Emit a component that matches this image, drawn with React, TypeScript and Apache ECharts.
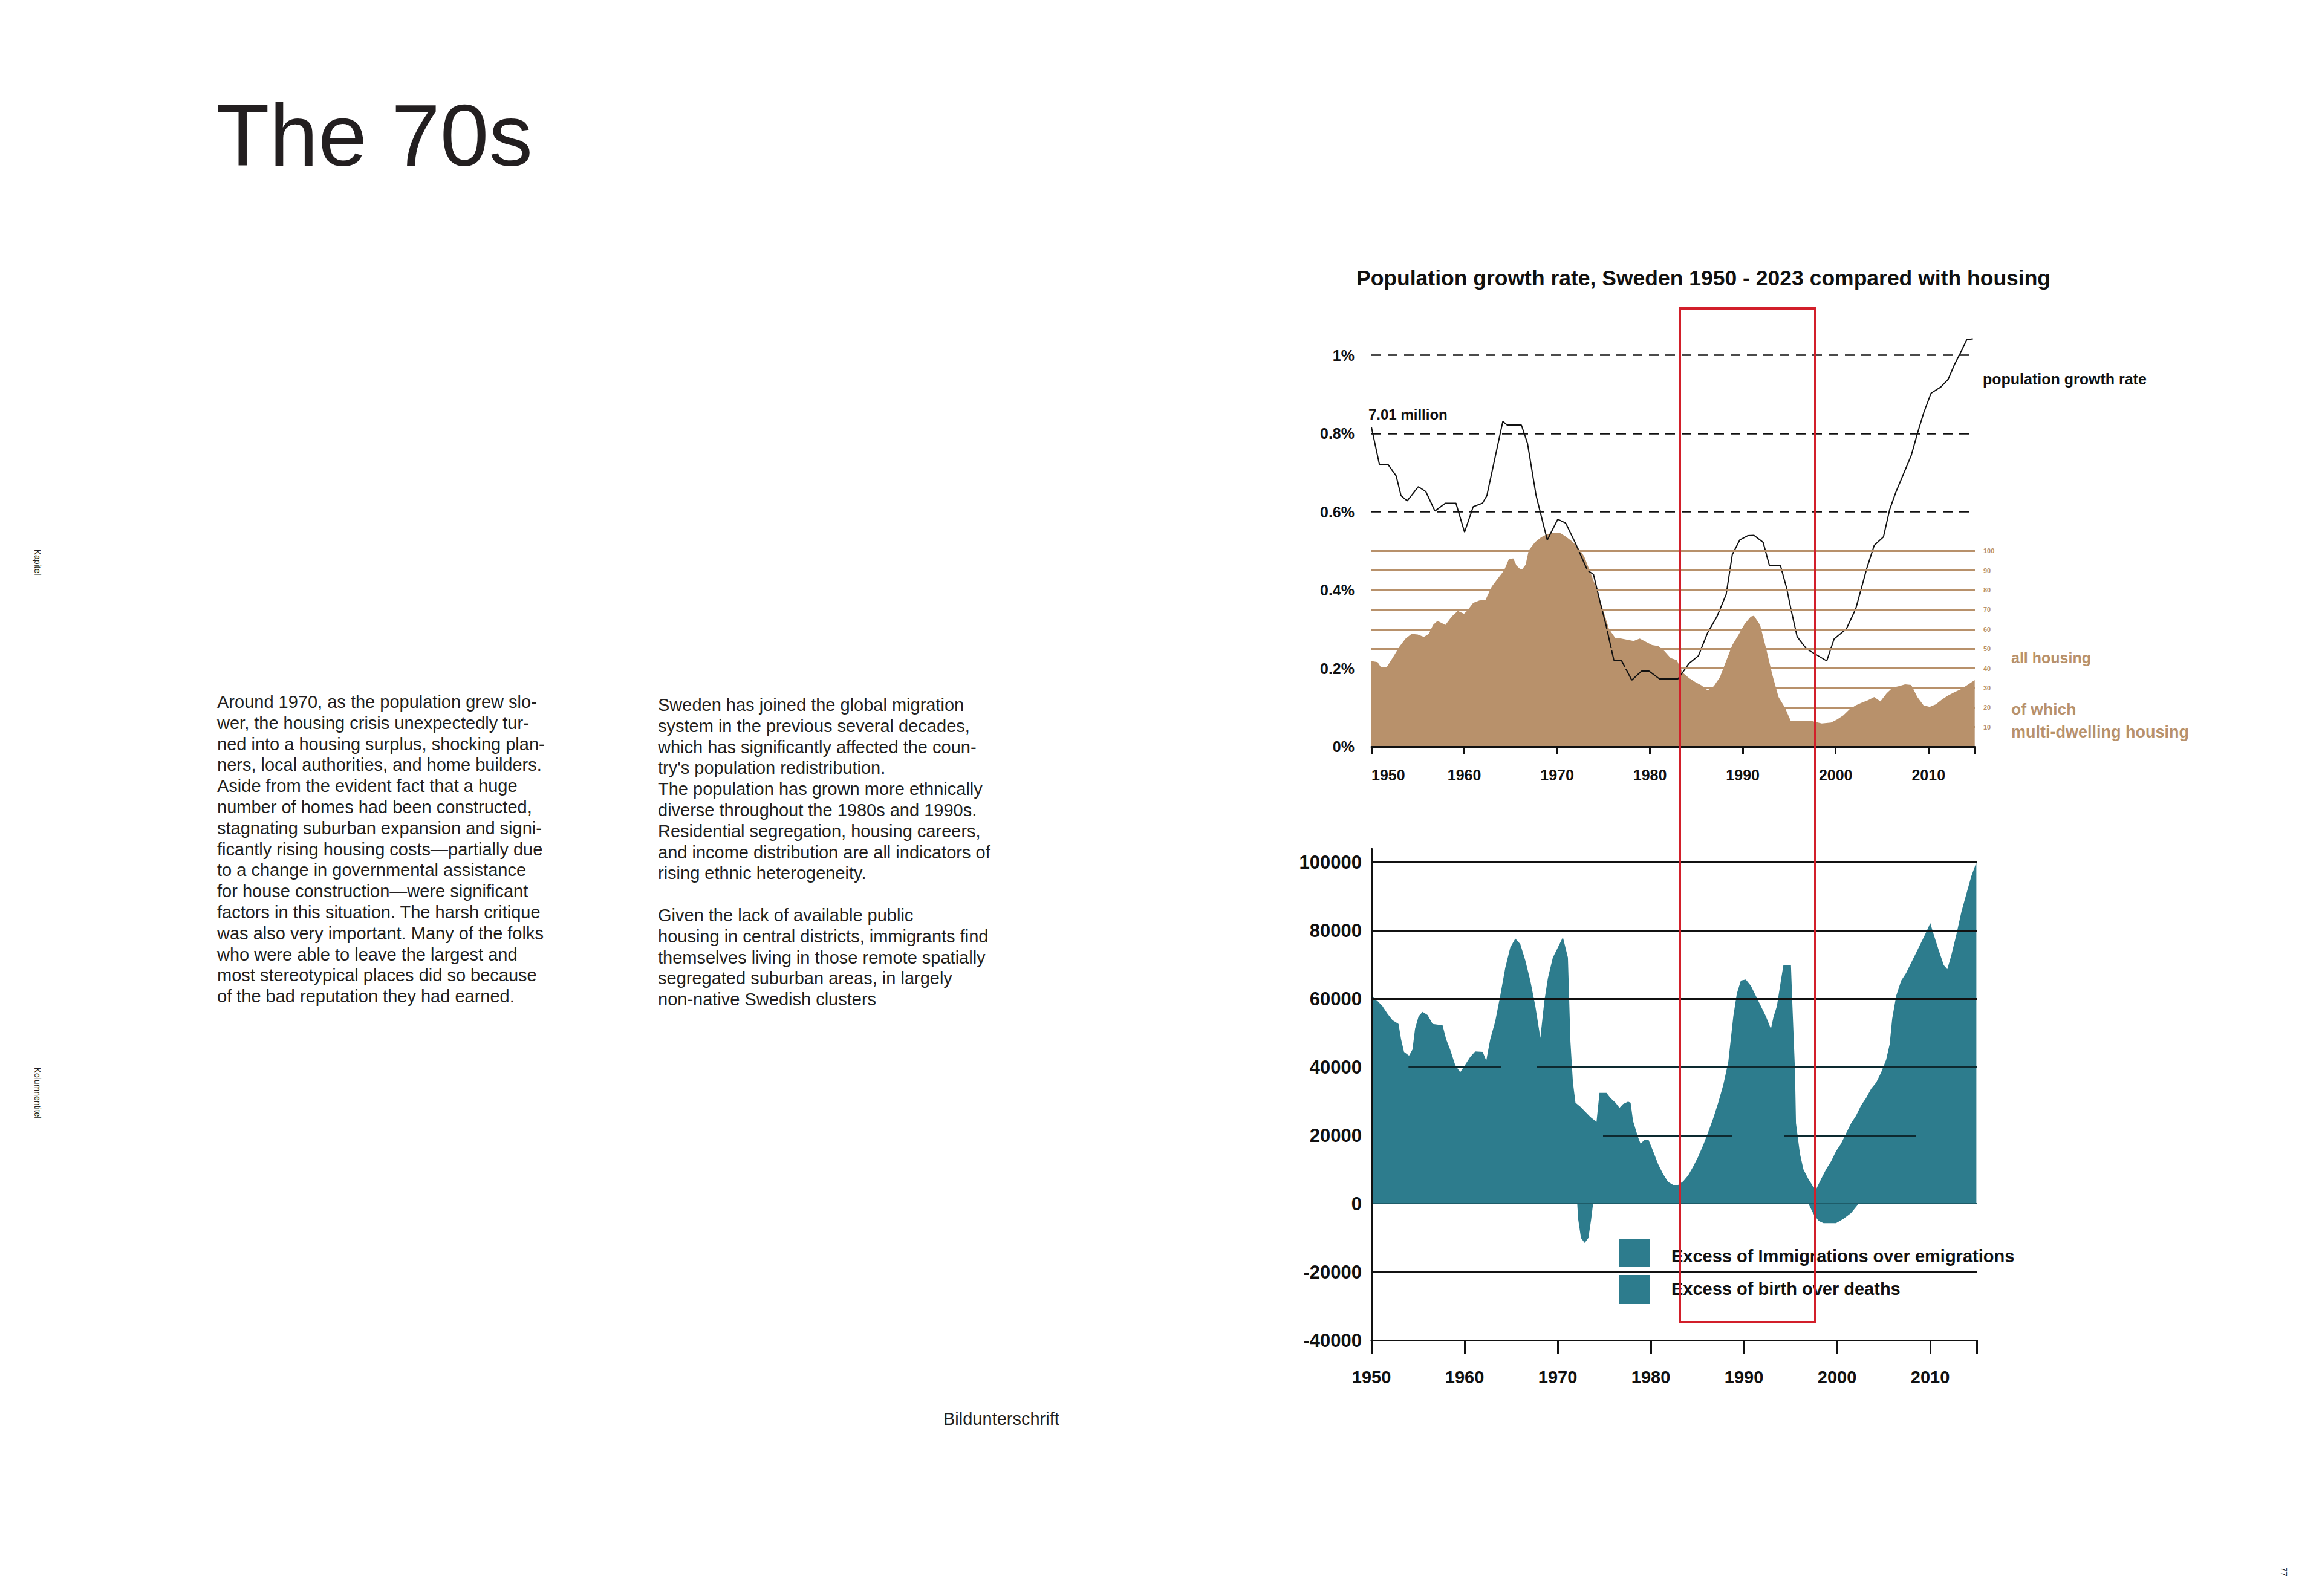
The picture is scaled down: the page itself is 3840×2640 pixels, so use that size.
import React, { useEffect, useRef } from 'react';
import * as echarts from 'echarts';

// ---------------- DATA ----------------
const chartTitle = 'Population growth rate, Sweden 1950 - 2023 compared with housing';
const yearMin = 1950;
const yearMax = 2015;

// Population growth rate (% per year) – traced vertices
const growthYears = [1950.0, 1950.86, 1951.79, 1952.66, 1953.19, 1953.85, 1955.05, 1955.85, 1956.84, 1957.97, 1959.1, 1960.03, 1960.96, 1961.96, 1962.43, 1964.15, 1964.62, 1966.15, 1966.81, 1967.74, 1968.94, 1970.07, 1970.93, 1971.93, 1973.26, 1973.92, 1974.58, 1975.25, 1976.11, 1976.91, 1978.04, 1979.1, 1979.9, 1981.03, 1983.02, 1984.22, 1985.22, 1986.21, 1987.21, 1988.21, 1988.87, 1989.67, 1990.53, 1991.2, 1992.19, 1992.86, 1994.05, 1994.72, 1995.18, 1995.85, 1996.84, 1997.84, 1999.04, 1999.83, 2001.16, 2002.16, 2002.82, 2003.36, 2004.15, 2005.15, 2005.81, 2006.48, 2008.14, 2008.8, 2009.47, 2010.27, 2011.33, 2012.13, 2012.79, 2013.46, 2014.12, 2014.78];
const growthRate = [0.816, 0.721, 0.721, 0.692, 0.641, 0.628, 0.664, 0.652, 0.602, 0.622, 0.622, 0.548, 0.613, 0.622, 0.641, 0.831, 0.822, 0.822, 0.775, 0.641, 0.528, 0.581, 0.571, 0.522, 0.451, 0.44, 0.374, 0.312, 0.221, 0.221, 0.17, 0.193, 0.193, 0.173, 0.173, 0.213, 0.232, 0.291, 0.332, 0.389, 0.491, 0.528, 0.539, 0.54, 0.522, 0.463, 0.463, 0.405, 0.352, 0.281, 0.25, 0.236, 0.219, 0.275, 0.301, 0.352, 0.409, 0.456, 0.514, 0.536, 0.605, 0.65, 0.744, 0.8, 0.852, 0.903, 0.919, 0.939, 0.976, 1.007, 1.04, 1.042];

// Housing completions (thousands, right scale)
const housingYears = [1950.0, 1950.66, 1951.0, 1951.66, 1952.33, 1952.99, 1953.65, 1954.32, 1954.98, 1955.65, 1956.18, 1956.64, 1957.11, 1957.97, 1958.64, 1959.3, 1959.97, 1960.3, 1960.96, 1961.63, 1962.29, 1962.96, 1963.62, 1964.29, 1964.82, 1965.28, 1965.61, 1966.15, 1966.61, 1966.94, 1967.61, 1968.27, 1968.94, 1969.6, 1970.27, 1970.93, 1971.59, 1972.26, 1972.92, 1973.59, 1974.25, 1974.92, 1975.58, 1976.25, 1976.91, 1977.57, 1978.24, 1978.9, 1979.57, 1980.23, 1980.9, 1981.56, 1982.23, 1982.89, 1983.55, 1984.22, 1984.88, 1985.55, 1986.21, 1986.88, 1987.54, 1988.21, 1988.87, 1989.53, 1990.2, 1990.86, 1991.2, 1991.86, 1992.52, 1993.19, 1993.85, 1994.52, 1995.18, 1997.51, 1998.5, 1999.5, 2000.17, 2000.83, 2001.5, 2002.16, 2002.82, 2003.49, 2004.15, 2004.82, 2005.48, 2006.15, 2006.81, 2007.48, 2008.14, 2008.8, 2009.47, 2010.13, 2010.8, 2011.46, 2012.13, 2012.79, 2013.46, 2014.12, 2014.98];
const housingAll = [43.7, 43.2, 40.7, 40.7, 45.7, 50.9, 55.1, 57.6, 57.3, 56.1, 57.6, 62.2, 64.3, 62.2, 66.4, 69.4, 67.9, 69.4, 73.5, 74.7, 75.0, 81.8, 86.0, 90.1, 96.0, 96.2, 92.6, 90.1, 93.0, 100.3, 104.4, 107.0, 108.6, 109.3, 109.3, 107.4, 105.0, 101.9, 97.2, 88.9, 80.7, 70.4, 60.2, 55.6, 55.2, 54.6, 54.0, 55.2, 53.5, 51.9, 51.4, 48.8, 45.3, 44.2, 37.7, 35.0, 33.0, 31.3, 28.7, 30.9, 35.5, 43.8, 51.9, 57.1, 62.7, 66.4, 66.9, 62.2, 50.0, 36.5, 25.3, 20.1, 13.0, 13.0, 11.8, 12.3, 13.9, 16.0, 19.1, 21.1, 22.5, 23.7, 25.3, 23.1, 27.2, 30.2, 30.9, 31.8, 31.5, 25.3, 21.1, 20.3, 21.6, 24.1, 26.2, 27.8, 29.3, 31.3, 34.0];
const housingTicks = [10, 20, 30, 40, 50, 60, 70, 80, 90, 100];
const growthRefLines = [0.6, 0.8, 1.0];

// Population increase (persons): visible upper envelope of the two series
const increaseYears = [1950.0, 1950.65, 1951.18, 1951.72, 1952.26, 1952.91, 1953.18, 1953.5, 1954.04, 1954.41, 1954.68, 1955.06, 1955.49, 1956.03, 1956.57, 1957.64, 1958.02, 1958.45, 1958.99, 1959.53, 1960.06, 1960.6, 1961.14, 1961.95, 1962.33, 1962.76, 1963.29, 1963.83, 1964.37, 1964.91, 1965.45, 1965.98, 1966.52, 1967.06, 1967.6, 1968.14, 1968.57, 1968.95, 1969.48, 1970.02, 1970.56, 1971.1, 1971.37, 1971.64, 1971.91, 1972.44, 1972.98, 1973.52, 1974.17, 1974.49, 1975.24, 1975.67, 1976.21, 1976.64, 1977.02, 1977.56, 1977.83, 1978.09, 1978.63, 1978.9, 1979.33, 1979.76, 1980.25, 1980.79, 1981.32, 1981.86, 1982.4, 1982.94, 1983.48, 1984.01, 1984.55, 1985.09, 1985.63, 1986.17, 1986.71, 1987.24, 1987.78, 1988.32, 1988.59, 1988.86, 1989.24, 1989.67, 1990.2, 1990.74, 1991.28, 1991.82, 1992.36, 1992.9, 1993.16, 1993.54, 1993.97, 1994.24, 1995.05, 1995.21, 1995.48, 1995.59, 1996.02, 1996.39, 1996.93, 1997.47, 1997.74, 1998.28, 1998.82, 1999.35, 1999.89, 2000.43, 2000.97, 2001.51, 2002.04, 2002.58, 2003.12, 2003.66, 2004.2, 2004.74, 2005.27, 2005.65, 2005.92, 2006.35, 2006.89, 2007.42, 2007.96, 2008.5, 2009.04, 2009.58, 2010.01, 2010.39, 2010.92, 2011.46, 2011.84, 2012.27, 2012.81, 2013.35, 2013.88, 2014.42, 2014.96];
const increaseUpper = [60900, 59400, 57900, 55700, 53800, 52700, 48200, 44500, 43400, 45200, 51200, 54900, 56200, 55300, 52700, 52300, 48200, 45200, 40700, 38500, 40700, 43000, 44600, 44500, 41900, 48200, 53400, 60900, 69100, 75100, 77700, 76100, 71300, 65400, 57900, 48600, 59400, 66100, 72100, 75100, 78100, 72100, 47500, 35500, 29600, 28400, 26900, 25400, 24000, 32500, 32500, 31000, 29600, 28100, 29200, 29900, 29600, 24300, 19500, 17600, 18700, 18700, 15400, 11600, 8700, 6400, 5500, 5500, 6600, 8300, 10900, 13800, 17200, 21000, 25100, 29600, 34800, 41500, 48200, 54900, 61600, 65400, 65700, 63900, 60900, 57900, 54900, 51200, 54600, 57900, 65400, 69900, 69900, 57900, 39300, 23600, 14600, 10100, 7200, 4900, 4200, 7200, 10100, 12400, 15400, 17600, 20600, 23600, 25800, 28800, 31000, 33700, 35500, 38500, 42200, 46700, 54200, 60900, 65400, 67600, 70600, 73600, 76600, 79600, 82200, 78800, 74300, 69900, 68700, 72800, 78800, 85500, 90700, 96000, 100000];
// Visible negative parts (net emigration 1972-73, excess of deaths 1997-2001)
const dipYears = [1950.0, 1972.1, 1972.2, 1972.5, 1972.9, 1973.3, 1973.6, 1973.8, 1996.93, 1997.47, 1998.01, 1998.55, 1999.89, 2000.7, 2001.51, 2002.31, 2015.0];
const increaseLower = [0, 0, -4500, -10000, -11500, -10000, -4500, 0, 0, -3000, -5000, -5700, -5700, -4400, -2700, 0, 0];

const increaseFullLines = [100000, 80000, 60000, -20000];
const increasePartialLines: [number, number, number][] = [
  [40000, 1953.98, 1963.94],
  [40000, 1967.76, 2015.0],
  [20000, 1974.87, 1988.75],
  [20000, 1994.35, 2008.5],
];
const legendLabels = ['Excess of Immigrations over emigrations', 'Excess of birth over deaths'];

const pageTitle = 'The 70s';
const leftText = [
  'Around 1970, as the population grew slo-',
  'wer, the housing crisis unexpectedly tur-',
  'ned into a housing surplus, shocking plan-',
  'ners, local authorities, and home builders.',
  'Aside from the evident fact that a huge',
  'number of homes had been constructed,',
  'stagnating suburban expansion and signi-',
  'ficantly rising housing costs\u2014partially due',
  'to a change in governmental assistance',
  'for house construction\u2014were significant',
  'factors in this situation. The harsh critique',
  'was also very important. Many of the folks',
  'who were able to leave the largest and',
  'most stereotypical places did so because',
  'of the bad reputation they had earned.',
];
const rightText = [
  'Sweden has joined the global migration',
  'system in the previous several decades,',
  'which has significantly affected the coun-',
  "try's population redistribution.",
  'The population has grown more ethnically',
  'diverse throughout the 1980s and 1990s.',
  'Residential segregation, housing careers,',
  'and income distribution are all indicators of',
  'rising ethnic heterogeneity.',
  '',
  'Given the lack of available public',
  'housing in central districts, immigrants find',
  'themselves living in those remote spatially',
  'segregated suburban areas, in largely',
  'non-native Swedish clusters',
];
const captionText = 'Bildunterschrift';
const sideLabels = ['Kapitel', 'Kolumnentitel'];
const pageNumber = '77';

// ---------------- STYLE ----------------
const FONT = '"Liberation Sans", Arial, Helvetica, sans-serif';
const BROWN = '#b8916b';
const TEAL = '#2d7c8d';
const INK = '#111111';
const PAGE_INK = '#231f20';
const RED = '#d21f2a';

const zip = (xs: number[], ys: number[]) => xs.map((x, i) => [x, ys[i]]);

function txt(x: number, y: number, text: string, size: number, opts: any = {}) {
  const align = opts.align || 'left';
  return {
    type: 'text',
    x,
    y,
    rotation: opts.rotation || 0,
    z: 50,
    silent: true,
    style: {
      text,
      fontSize: size,
      fontFamily: FONT,
      fontWeight: opts.weight || 'normal',
      fill: opts.color || PAGE_INK,
      align,
      verticalAlign: 'middle',
      textAlign: align,
      textVerticalAlign: 'middle',
    },
  };
}

function buildOption() {
  const graphics: any[] = [];
  graphics.push(txt(357, 224, pageTitle, 145));
  leftText.forEach((l, i) => graphics.push(txt(359, 1161 + i * 34.8, l, 29)));
  rightText.forEach((l, i) => { if (l) graphics.push(txt(1088, 1166 + i * 34.8, l, 29)); });
  graphics.push(txt(1560, 2347, captionText, 29));
  graphics.push(txt(62, 930, sideLabels[0], 14, { rotation: -Math.PI / 2, align: 'center' }));
  graphics.push(txt(62, 1808, sideLabels[1], 14, { rotation: -Math.PI / 2, align: 'center' }));
  graphics.push(txt(3777, 2600, pageNumber, 14, { rotation: -Math.PI / 2, align: 'center' }));

  // chart annotations
  graphics.push(txt(2243, 460, chartTitle, 35.5, { weight: 'bold', color: INK }));
  graphics.push(txt(2263, 685, '7.01 million', 24, { weight: 'bold', color: INK }));
  graphics.push(txt(3279, 627, 'population growth rate', 25, { weight: 'bold', color: INK }));
  graphics.push(txt(3326, 1088, 'all housing', 25, { weight: 'bold', color: BROWN }));
  graphics.push(txt(3326, 1173, 'of which', 26.5, { weight: 'bold', color: BROWN }));
  graphics.push(txt(3326, 1211, 'multi-dwelling housing', 27, { weight: 'bold', color: BROWN }));

  // legend
  graphics.push({ type: 'rect', z: 50, silent: true, shape: { x: 2678, y: 2049, width: 51, height: 46 }, style: { fill: TEAL } });
  graphics.push({ type: 'rect', z: 50, silent: true, shape: { x: 2678, y: 2109, width: 51, height: 48 }, style: { fill: TEAL } });
  graphics.push(txt(2764, 2078, legendLabels[0], 29, { weight: 'bold', color: INK }));
  graphics.push(txt(2764, 2132, legendLabels[1], 29, { weight: 'bold', color: INK }));

  // red highlight frame
  graphics.push({
    type: 'rect', z: 100, silent: true,
    shape: { x: 2778, y: 510, width: 224, height: 1677 },
    style: { fill: 'none', stroke: RED, lineWidth: 4 },
  });

  const axisFont = { fontFamily: FONT, fontWeight: 'bold', color: INK };

  return {
    animation: false,
    backgroundColor: '#ffffff',
    graphic: { elements: graphics },
    grid: [
      { left: 2268, top: 523, width: 998, height: 712 },
      { left: 2268, top: 1404, width: 1001, height: 813 },
    ],
    xAxis: [
      {
        type: 'value', gridIndex: 0, min: yearMin, max: yearMax, interval: 10, z: 10,
        axisLine: { onZero: false, lineStyle: { color: INK, width: 3 } },
        axisTick: { length: 13, lineStyle: { color: INK, width: 3 } },
        axisLabel: { ...axisFont, fontSize: 25, margin: 34, alignMinLabel: 'left', formatter: (v: number) => (v >= yearMax ? '' : String(v)) },
        splitLine: { show: false },
      },
      {
        type: 'value', gridIndex: 1, min: yearMin, max: yearMax, interval: 10, z: 10,
        axisLine: { onZero: false, lineStyle: { color: INK, width: 3 } },
        axisTick: { length: 22, lineStyle: { color: INK, width: 3 } },
        axisLabel: { ...axisFont, fontSize: 29, margin: 46, formatter: (v: number) => (v >= yearMax ? '' : String(v)) },
        splitLine: { show: false },
      },
    ],
    yAxis: [
      {
        type: 'value', gridIndex: 0, min: 0, max: 1.1, interval: 0.2,
        axisLine: { show: false }, axisTick: { show: false }, splitLine: { show: false },
        axisLabel: { ...axisFont, fontSize: 25, margin: 28, formatter: (v: number) => (v > 1.05 ? '' : `${+v.toFixed(1)}%`) },
      },
      {
        type: 'value', gridIndex: 0, min: 0, max: 220, position: 'right', show: false,
        splitLine: { show: false },
      },
      {
        type: 'value', gridIndex: 1, min: -40000, max: 104000, interval: 20000, z: 10,
        axisLine: { show: true, onZero: false, lineStyle: { color: INK, width: 3 } },
        axisTick: { show: false }, splitLine: { show: false },
        axisLabel: { ...axisFont, fontSize: 31, margin: 16, formatter: (v: number) => (v % 20000 !== 0 ? '' : String(v)) },
      },
    ],
    series: [
      {
        name: 'all housing', type: 'line', xAxisIndex: 0, yAxisIndex: 1, z: 2,
        data: zip(housingYears, housingAll), symbol: 'none', silent: true,
        lineStyle: { width: 0 }, areaStyle: { color: BROWN, opacity: 1 },
        markLine: {
          silent: true, symbol: 'none', animation: false,
          lineStyle: { color: BROWN, width: 3, type: 'solid', opacity: 1 },
          label: { show: true, position: 'end', distance: 14, color: BROWN, fontSize: 11, fontWeight: 'bold', fontFamily: FONT, formatter: (p: any) => String(p.value) },
          data: housingTicks.map((v) => ({ yAxis: v })),
        },
      },
      {
        name: 'population growth rate', type: 'line', xAxisIndex: 0, yAxisIndex: 0, z: 4,
        data: zip(growthYears, growthRate), symbol: 'none', silent: true,
        lineStyle: { color: INK, width: 2 },
        markLine: {
          silent: true, symbol: 'none', animation: false,
          lineStyle: { color: INK, width: 2.5, type: [16, 11] },
          label: { show: false },
          data: growthRefLines.map((v) => ({ yAxis: v })),
        },
      },
      {
        name: 'population increase', type: 'line', xAxisIndex: 1, yAxisIndex: 2, z: 2,
        data: zip(increaseYears, increaseUpper), symbol: 'none', silent: true,
        lineStyle: { width: 0 }, areaStyle: { color: TEAL, opacity: 1 },
      },
      {
        name: 'population decrease', type: 'line', xAxisIndex: 1, yAxisIndex: 2, z: 3,
        data: zip(dipYears, increaseLower), symbol: 'none', silent: true,
        lineStyle: { width: 0 }, areaStyle: { color: TEAL, opacity: 1 },
        markLine: {
          silent: true, symbol: 'none', animation: false,
          lineStyle: { color: INK, width: 3, type: 'solid' },
          label: { show: false },
          data: [
            ...increaseFullLines.map((v) => ({ yAxis: v })),
            { yAxis: 0, lineStyle: { color: '#1e5c69', width: 2 } },
            ...increasePartialLines.map(([v, a, b]) => [
              { coord: [a, v], lineStyle: { color: '#0d2a30', width: 3 } },
              { coord: [b, v] },
            ]),
          ],
        },
      },
    ],
  };
}

export default function App() {
  const ref = useRef<HTMLDivElement>(null);
  useEffect(() => {
    document.body.style.margin = '0';
    const chart = echarts.init(ref.current as HTMLDivElement, null, { renderer: 'svg', width: 3840, height: 2640 });
    chart.setOption(buildOption() as any);
    return () => chart.dispose();
  }, []);
  return <div ref={ref} style={{ width: 3840, height: 2640, background: '#fff' }} />;
}
